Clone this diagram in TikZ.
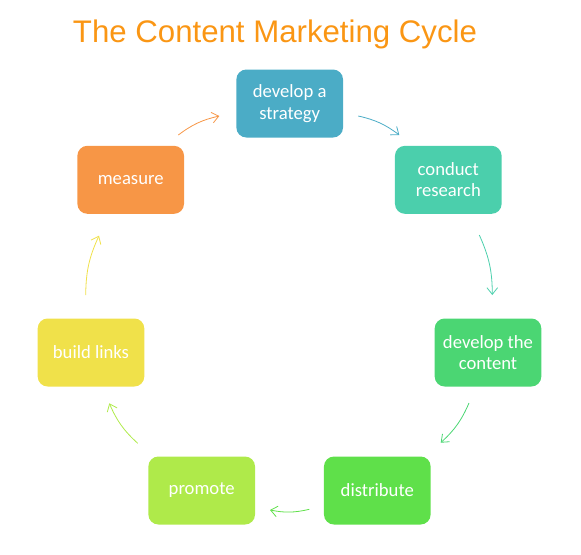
\documentclass[tikz,border=0pt]{standalone}
\usepackage{fontspec}
\setmainfont{Carlito}
\newfontfamily\titlefont{Liberation Sans}
\definecolor{CMTitle}{RGB}{250,150,20}
\definecolor{CMStrategy}{RGB}{75,172,198}
\definecolor{CMResearch}{RGB}{75,207,172}
\definecolor{CMContent}{RGB}{75,214,115}
\definecolor{CMDistribute}{RGB}{95,224,74}
\definecolor{CMPromote}{RGB}{175,234,74}
\definecolor{CMLinks}{RGB}{240,225,74}
\definecolor{CMMeasure}{RGB}{247,150,70}
\usetikzlibrary{arrows.meta}
\tikzset{
  stage/.style={rectangle, rounded corners=7.5pt, minimum width=80pt,
    minimum height=51pt, align=center, text=white,
    font=\fontsize{14}{16}\selectfont},
  flow/.style={-{Straight Barb[length=5pt, width=8pt]}, line width=0.6pt,
    bend left=12}
}
\begin{document}
\begin{tikzpicture}[x=0.75pt, y=-0.75pt]
  \useasboundingbox (0,0) rectangle (581,554);
  \node[anchor=base, text=CMTitle, font=\titlefont\fontsize{23.4}{26}\selectfont]
    (title) at (275,42) {The Content Marketing Cycle};
  % stages, clockwise from the top
  \node[stage, fill=CMStrategy] (strategy) at (289.7,103.5) {develop a\\strategy};
  \node[stage, fill=CMResearch] (research) at (448.3,179.8) {conduct\\research};
  \node[stage, fill=CMContent] (content) at (488,352.5) {develop the\\content};
  \node[stage, fill=CMDistribute] (distribute) at (377.3,490.5) {distribute};
  \node[stage, fill=CMPromote] (promote) at (201.7,490.5) {promote};
  \node[stage, fill=CMLinks] (links) at (91,352.5) {build links};
  \node[stage, fill=CMMeasure] (measure) at (130.7,179.8) {measure};
  % arrows
  \draw[flow, CMMeasure] ([shift={(47.6,-44.8)}]measure.center)
    to ([shift={(-70.4,12.5)}]strategy.center);
  \draw[flow, CMStrategy] ([shift={(68.6,12.5)}]strategy.center)
    to ([shift={(-49,-44.8)}]research.center);
  \draw[flow, CMResearch] ([shift={(31,55.2)}]research.center)
    to ([shift={(4.3,-57.5)}]content.center);
  \draw[flow, CMContent] ([shift={(-19,50.5)}]content.center)
    to ([shift={(63.4,-47.8)}]distribute.center);
  \draw[flow, CMDistribute] ([shift={(-68,18.8)}]distribute.center)
    to ([shift={(68.3,19.5)}]promote.center);
  \draw[flow, CMPromote] ([shift={(-64,-47.2)}]promote.center)
    to ([shift={(18.3,50.8)}]links.center);
  \draw[flow, CMLinks] ([shift={(-5.3,-57.5)}]links.center)
    to ([shift={(-31.7,55.9)}]measure.center);
\end{tikzpicture}
\end{document}
